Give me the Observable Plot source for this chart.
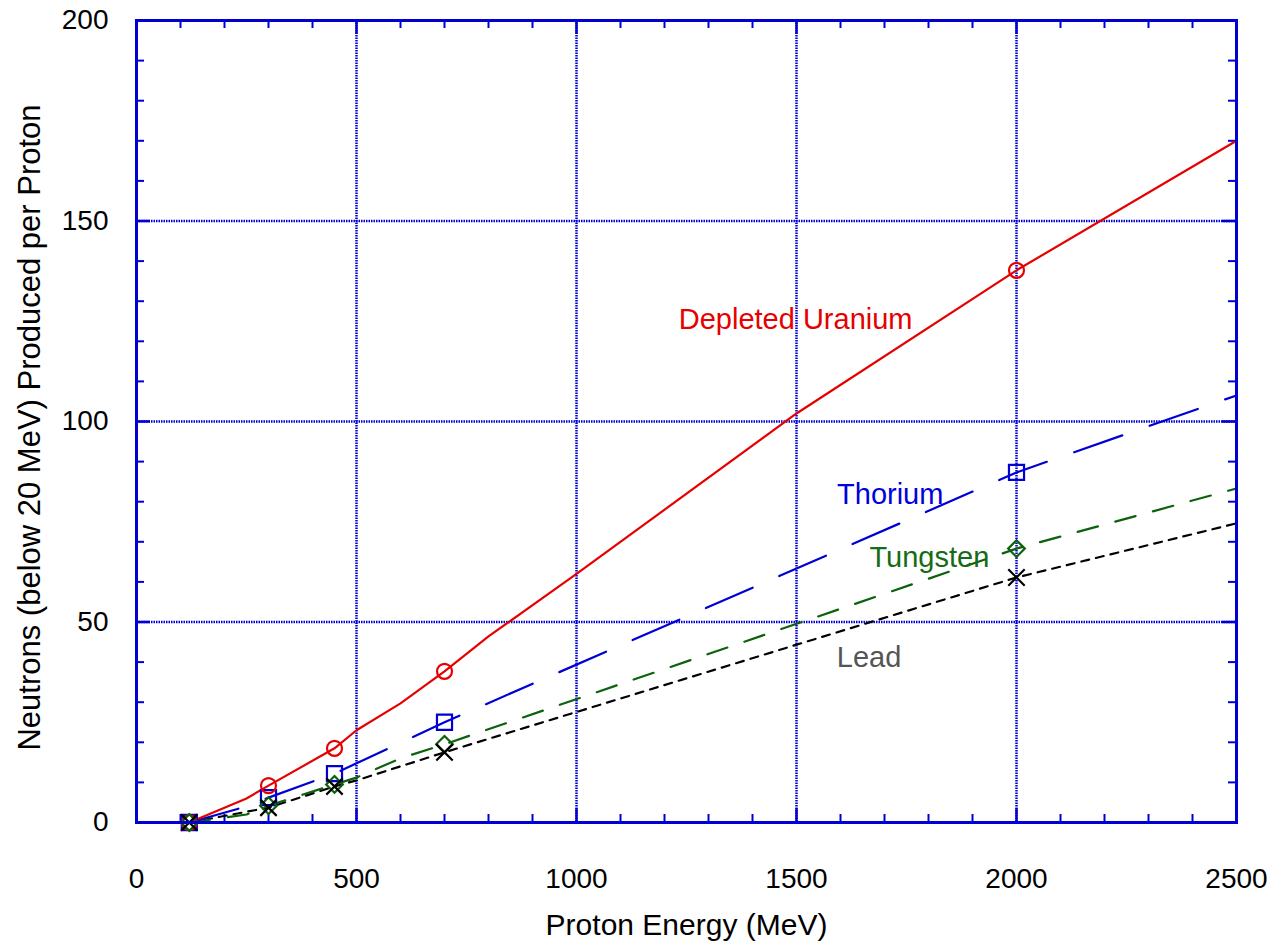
<!DOCTYPE html>
<html>
<head>
<meta charset="utf-8">
<script src="https://cdn.jsdelivr.net/npm/d3@7"></script>
<script src="https://cdn.jsdelivr.net/npm/@observablehq/plot@0.6"></script>
<style>
  html, body { margin: 0; padding: 0; background: #fff; }
  #chart svg { display: block; }
</style>
</head>
<body>
<div id="chart"></div>
<script>
// ---- data ----
const uraniumE = [120, 250, 300, 450, 500, 600, 700, 800, 1000, 1500, 2000, 2500];
const uraniumN = [0, 6, 9.2, 18.5, 23, 29.7, 37.7, 46.4, 62, 102, 137.7, 170];

const thoriumE = [120, 250, 300, 450, 700, 2000, 2500];
const thoriumN = [0, 4, 6.2, 12.2, 25, 87.3, 106.5];

const tungstenE = [120, 250, 300, 450, 500, 600, 700, 2000, 2500];
const tungstenN = [0, 2, 4.2, 9.5, 11.2, 16, 19.5, 68.3, 83.3];

const leadE = [120, 300, 450, 500, 700, 2000, 2500];
const leadN = [0, 3.7, 9, 10.5, 17.5, 61.1, 74.6];

const markerE = [120, 300, 450, 700, 2000];

const xTicks = [0, 500, 1000, 1500, 2000, 2500];
const yTicks = [0, 50, 100, 150, 200];

const seriesNames = ["Depleted Uranium", "Thorium", "Tungsten", "Lead"];
const labelE = [1498, 1713, 1802, 1665];
const labelN = [125.4, 81.8, 66, 41.2];

const xTitle = "Proton Energy (MeV)";
const yTitle = "Neutrons (below 20 MeV) Produced per Proton";

// ---- build tables ----
const toRows = (E, N) => E.map((e, i) => ({e, n: N[i]}));
const uranium = toRows(uraniumE, uraniumN);
const thorium = toRows(thoriumE, thoriumN);
const tungsten = toRows(tungstenE, tungstenN);
const lead = toRows(leadE, leadN);
const marks = (rows) => rows.filter(d => markerE.includes(d.e));
const labels = seriesNames.map((s, i) => ({s, e: labelE[i], n: labelN[i]}));

const BLUE = "#0000d4";
const RED = "#e60000";
const GREEN = "#0b620b";
const BLACK = "#000000";
const GRAY = "#555555";
const labelColors = [RED, "#0000dd", "#166b16", GRAY];

const W = 1274, H = 951, mL = 136, mR = 38, mT = 20, mB = 129;
const fh = H - mT - mB;
const fw = W - mL - mR;

const minorX = d3.range(100, 2500, 100).filter(v => !xTicks.includes(v));
const minorY = d3.range(10, 200, 10).filter(v => !yTicks.includes(v));
const majX = xTicks.slice(1, -1);
const majY = yTicks.slice(1, -1);

const chart = Plot.plot({
  width: W, height: H,
  marginLeft: mL, marginRight: mR, marginTop: mT, marginBottom: mB,
  style: {fontFamily: "'Liberation Sans', Arial, sans-serif", fontSize: "28px", color: "#000", background: "#fff"},
  x: {domain: [0, 2500]},
  y: {domain: [0, 200]},
  marks: [
    // dotted grid
    Plot.ruleX(majX, {stroke: BLUE, strokeWidth: 2.5, strokeDasharray: "1.5,1"}),
    Plot.ruleY(majY, {stroke: BLUE, strokeWidth: 2.5, strokeDasharray: "1.5,1"}),
    // minor ticks (inward)
    Plot.ruleX(minorX, {stroke: BLUE, strokeWidth: 2, insetTop: fh - 8}),
    Plot.ruleX(minorX, {stroke: BLUE, strokeWidth: 2, insetBottom: fh - 8}),
    Plot.ruleY(minorY, {stroke: BLUE, strokeWidth: 2, insetRight: fw - 8}),
    Plot.ruleY(minorY, {stroke: BLUE, strokeWidth: 2, insetLeft: fw - 8}),
    // major ticks (inward, longer)
    Plot.ruleX(majX, {stroke: BLUE, strokeWidth: 2.5, insetTop: fh - 14}),
    Plot.ruleX(majX, {stroke: BLUE, strokeWidth: 2.5, insetBottom: fh - 14}),
    Plot.ruleY(majY, {stroke: BLUE, strokeWidth: 2.5, insetRight: fw - 14}),
    Plot.ruleY(majY, {stroke: BLUE, strokeWidth: 2.5, insetLeft: fw - 14}),
    // axes
    Plot.axisX(xTicks, {tickSize: 0, tickPadding: 46, fontSize: 28, tickFormat: d3.format("d"), label: null}),
    Plot.axisY(yTicks, {tickSize: 0, tickPadding: 28, fontSize: 28, tickFormat: d3.format("d"), label: null}),
    // axis titles
    Plot.text([xTitle], {frameAnchor: "bottom", dy: 103, text: d => d, fontSize: 30, fill: "#000", textAnchor: "middle", lineAnchor: "middle"}),
    Plot.text([yTitle], {frameAnchor: "left", dx: -106, dy: 6, rotate: -90, text: d => d, fontSize: 31, fill: "#000", textAnchor: "middle", lineAnchor: "middle"}),
    // series lines
    Plot.line(lead, {x: "e", y: "n", stroke: BLACK, strokeWidth: 2.2, strokeDasharray: "8,7"}),
    Plot.line(tungsten, {x: "e", y: "n", stroke: GREEN, strokeWidth: 2.2, strokeDasharray: "21,18"}),
    Plot.line(thorium, {x: "e", y: "n", stroke: BLUE, strokeWidth: 2.2, strokeDasharray: "51,29"}),
    Plot.line(uranium, {x: "e", y: "n", stroke: RED, strokeWidth: 2.2}),
    // markers
    Plot.dot(marks(thorium), {x: "e", y: "n", symbol: "square", r: 8.5, stroke: BLUE, strokeWidth: 2.2, fill: "none"}),
    Plot.dot(marks(uranium), {x: "e", y: "n", symbol: "circle", r: 7.5, stroke: RED, strokeWidth: 2.2, fill: "none"}),
    Plot.dot(marks(tungsten), {x: "e", y: "n", symbol: "diamond2", r: 7.5, stroke: GREEN, strokeWidth: 2.2, fill: "none"}),
    Plot.dot(marks(lead), {x: "e", y: "n", symbol: "times", r: 7.5, stroke: BLACK, strokeWidth: 2.2, fill: "none"}),
    // series labels
    Plot.text(labels, {x: "e", y: "n", text: "s", fill: (d, i) => labelColors[i], fontSize: 29}),
    // frame
    Plot.frame({stroke: BLUE, strokeWidth: 3})
  ]
});
document.getElementById("chart").appendChild(chart);
</script>
</body>
</html>
